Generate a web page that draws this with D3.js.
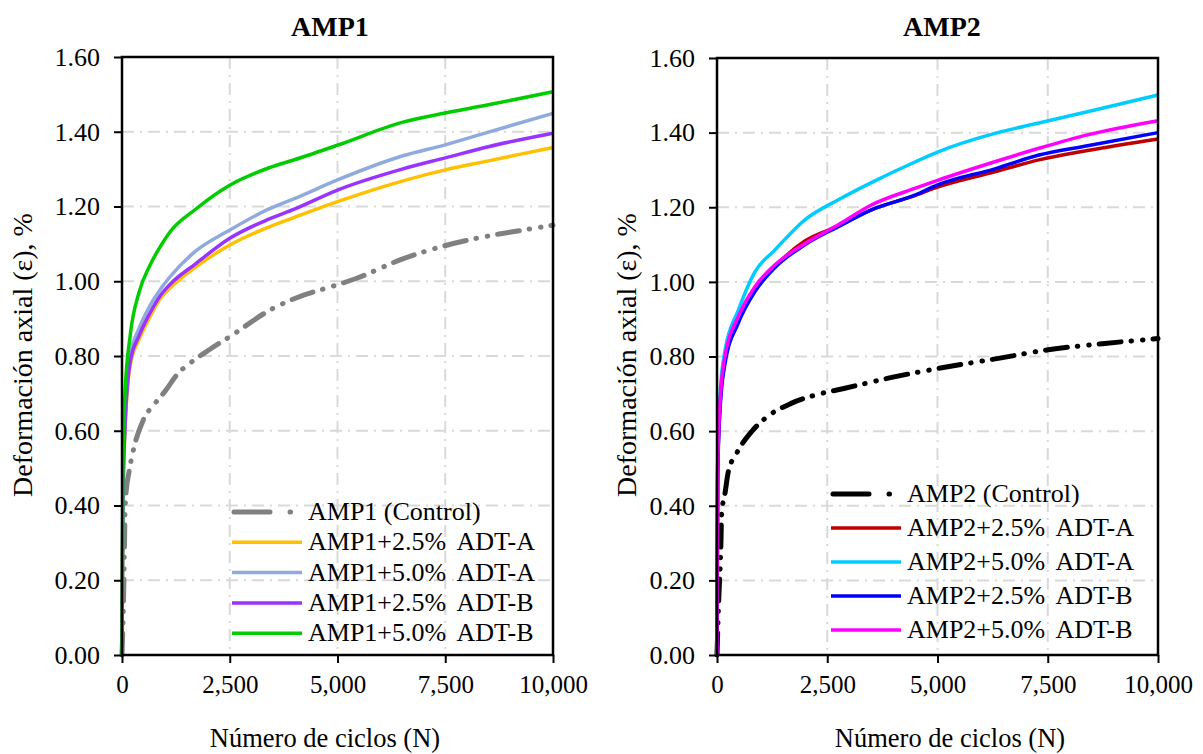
<!DOCTYPE html>
<html>
<head>
<meta charset="utf-8">
<script src="https://cdn.jsdelivr.net/npm/d3@7"></script>
<style>
  html, body { margin: 0; padding: 0; background: #fff; }
  svg { display: block; font-family: "Liberation Serif", "Times New Roman", serif; }
</style>
</head>
<body>
<svg id="chart" width="1203" height="754"></svg>
<script>
// ---------------- DATA ----------------
const xTicks = [0, 2500, 5000, 7500, 10000];
const yTicks = [0, 0.2, 0.4, 0.6, 0.8, 1.0, 1.2, 1.4, 1.6];
const titles = ["AMP1", "AMP2"];
const xTitle = "Número de ciclos (N)";
const yTitle = "Deformación axial (ε), %";

// AMP1 panel
const amp1Names = ["AMP1 (Control)", "AMP1+2.5% ADT-A", "AMP1+5.0% ADT-A", "AMP1+2.5% ADT-B", "AMP1+5.0% ADT-B"];
const amp1ControlCycles = [0, 30, 54, 70, 93, 163, 263, 494, 766, 1000, 1270, 1733, 2042, 2506, 3434, 4053, 4980, 5445, 6450, 7455, 8230, 9311, 10000];
const amp1Control = [0.00, 0.12, 0.27, 0.38, 0.433, 0.49, 0.548, 0.629, 0.673, 0.706, 0.749, 0.794, 0.818, 0.852, 0.923, 0.956, 0.990, 1.008, 1.057, 1.094, 1.115, 1.137, 1.150];
const amp1Cycles = [0, 20, 70, 190, 400, 650, 900, 1100, 1700, 2500, 3400, 4000, 5000, 6500, 7500, 8500, 10000];
const amp1_25A = [0, 0.40, 0.60, 0.775, 0.845, 0.905, 0.955, 0.980, 1.037, 1.097, 1.145, 1.171, 1.213, 1.268, 1.298, 1.322, 1.358];
const amp1_50A = [0, 0.42, 0.62, 0.800, 0.875, 0.935, 0.980, 1.010, 1.080, 1.137, 1.193, 1.221, 1.271, 1.335, 1.365, 1.399, 1.449];
const amp1_25B = [0, 0.41, 0.61, 0.785, 0.855, 0.915, 0.963, 0.990, 1.046, 1.115, 1.166, 1.193, 1.244, 1.300, 1.330, 1.360, 1.396];
const amp1_50B = [0, 0.47, 0.70, 0.855, 0.972, 1.043, 1.095, 1.130, 1.192, 1.257, 1.303, 1.325, 1.364, 1.425, 1.450, 1.472, 1.507];

// AMP2 panel
const amp2Names = ["AMP2 (Control)", "AMP2+2.5% ADT-A", "AMP2+5.0% ADT-A", "AMP2+2.5% ADT-B", "AMP2+5.0% ADT-B"];
const amp2ControlCycles = [0, 40, 83, 106, 181, 256, 447, 787, 1088, 1694, 2374, 2902, 3962, 5018, 6379, 7512, 8798, 10000];
const amp2Control = [0.00, 0.15, 0.273, 0.38, 0.433, 0.491, 0.541, 0.599, 0.634, 0.675, 0.701, 0.715, 0.744, 0.768, 0.795, 0.818, 0.835, 0.848];
const amp2Cycles = [0, 15, 70, 180, 480, 860, 1310, 2000, 2750, 3500, 4500, 5000, 6300, 7300, 8400, 10000];
const amp2_25A = [0, 0.49, 0.67, 0.790, 0.895, 0.980, 1.041, 1.110, 1.150, 1.193, 1.232, 1.254, 1.295, 1.327, 1.352, 1.383];
const amp2_50A = [0, 0.52, 0.70, 0.815, 0.923, 1.027, 1.085, 1.167, 1.220, 1.266, 1.322, 1.348, 1.398, 1.426, 1.456, 1.501];
const amp2_25B = [0, 0.48, 0.66, 0.780, 0.889, 0.974, 1.038, 1.100, 1.148, 1.193, 1.233, 1.260, 1.303, 1.340, 1.365, 1.400];
const amp2_50B = [0, 0.50, 0.68, 0.800, 0.906, 0.987, 1.045, 1.103, 1.153, 1.206, 1.251, 1.272, 1.322, 1.358, 1.394, 1.432];

// ---------------- STYLE / LAYOUT ----------------
const panels = [
  {
    title: titles[0], left: 122, right: 553, top: 57, bottom: 655,
    titleX: 330, xTitleX: 325, yTitleX: 32,
    legendX: 232, legendY: 512, legendStep: 30.3,
    series: [
      {name: amp1Names[0], cycles: amp1ControlCycles, values: amp1Control, color: "#808080", control: true},
      {name: amp1Names[1], cycles: amp1Cycles, values: amp1_25A, color: "#ffc000"},
      {name: amp1Names[2], cycles: amp1Cycles, values: amp1_50A, color: "#8faadc"},
      {name: amp1Names[3], cycles: amp1Cycles, values: amp1_25B, color: "#9933ff"},
      {name: amp1Names[4], cycles: amp1Cycles, values: amp1_50B, color: "#00cc00"}
    ],
    drawOrder: [0, 1, 2, 3, 4]
  },
  {
    title: titles[1], left: 717, right: 1158, top: 58, bottom: 655,
    titleX: 942, xTitleX: 950, yTitleX: 636,
    legendX: 831, legendY: 494, legendStep: 34,
    series: [
      {name: amp2Names[0], cycles: amp2ControlCycles, values: amp2Control, color: "#000000", control: true},
      {name: amp2Names[1], cycles: amp2Cycles, values: amp2_25A, color: "#c00000"},
      {name: amp2Names[2], cycles: amp2Cycles, values: amp2_50A, color: "#00ccff"},
      {name: amp2Names[3], cycles: amp2Cycles, values: amp2_25B, color: "#0000ff"},
      {name: amp2Names[4], cycles: amp2Cycles, values: amp2_50B, color: "#ff00ff"}
    ],
    drawOrder: [0, 2, 1, 3, 4]
  }
];

const svg = d3.select("#chart");

panels.forEach((p, pi) => {
  const x = d3.scaleLinear().domain([0, 10000]).range([p.left, p.right]);
  const y = d3.scaleLinear().domain([0, 1.6]).range([p.bottom, p.top]);
  const g = svg.append("g");

  // grid
  g.append("g").selectAll("line.gx")
    .data(xTicks.slice(1, -1)).join("line")
    .attr("x1", d => x(d)).attr("x2", d => x(d))
    .attr("y1", p.top).attr("y2", p.bottom)
    .attr("stroke", "#d9d9d9").attr("stroke-width", 2)
    .attr("stroke-dasharray", "12,6,2,6");
  g.append("g").selectAll("line.gy")
    .data(yTicks.slice(1, -1)).join("line")
    .attr("x1", p.left).attr("x2", p.right)
    .attr("y1", d => y(d)).attr("y2", d => y(d))
    .attr("stroke", "#d9d9d9").attr("stroke-width", 2)
    .attr("stroke-dasharray", "12,6,2,6");

  // series
  const line = d3.line().x(d => x(d[0])).y(d => y(d[1])).curve(d3.curveMonotoneX);
  p.drawOrder.forEach(i => {
    const s = p.series[i];
    const pts = s.cycles.map((c, k) => [c, s.values[k]]);
    const path = g.append("path").datum(pts)
      .attr("d", line)
      .attr("fill", "none")
      .attr("stroke", s.color)
      .attr("stroke-linejoin", "round");
    if (s.control) {
      path.attr("stroke-width", 5).attr("stroke-linecap", "round")
        .attr("stroke-dasharray", "22,10,0.5,11,0.5,10");
    } else {
      path.attr("stroke-width", 3.5);
    }
  });

  // frame
  g.append("rect")
    .attr("x", p.left).attr("y", p.top)
    .attr("width", p.right - p.left).attr("height", p.bottom - p.top)
    .attr("fill", "none").attr("stroke", "#000").attr("stroke-width", 2.5);

  // axes
  const yAxis = d3.axisLeft(y).tickValues(yTicks).tickFormat(d3.format(".2f")).tickSize(8).tickPadding(14);
  const xAxis = d3.axisBottom(x).tickValues(xTicks).tickFormat(d3.format(",")).tickSize(8).tickPadding(12);
  const ya = g.append("g").attr("transform", `translate(${p.left},0)`).call(yAxis);
  const xa = g.append("g").attr("transform", `translate(0,${p.bottom})`).call(xAxis);
  [ya, xa].forEach(a => {
    a.select(".domain").remove();
    a.selectAll(".tick line").attr("stroke", "#000").attr("stroke-width", 2);
    a.selectAll(".tick text").attr("fill", "#000")
      .style("font-family", '"Liberation Serif", serif');
  });
  ya.selectAll(".tick text").style("font-size", "26px");
  xa.selectAll(".tick text").style("font-size", "25px");

  // titles
  g.append("text").attr("x", p.titleX).attr("y", 36)
    .attr("text-anchor", "middle").style("font-weight", "bold").style("font-size", "28px")
    .text(p.title);
  g.append("text").attr("x", p.xTitleX).attr("y", 747)
    .attr("text-anchor", "middle").style("font-size", "26.5px").text(xTitle);
  g.append("text")
    .attr("transform", `translate(${p.yTitleX},355) rotate(-90)`)
    .attr("text-anchor", "middle").style("font-size", "28px").text(yTitle);

  // legend
  const lg = g.append("g");
  p.series.forEach((s, i) => {
    const ly = p.legendY + i * p.legendStep;
    const l = lg.append("line")
      .attr("x1", p.legendX + (s.control ? 2 : 0)).attr("x2", p.legendX + 70)
      .attr("y1", ly).attr("y2", ly)
      .attr("stroke", s.color);
    if (s.control) {
      l.attr("stroke-width", 5).attr("stroke-linecap", "round")
        .attr("stroke-dasharray", "36,20,0.5,100");
    } else {
      l.attr("stroke-width", 3.5);
    }
    lg.append("text").attr("x", p.legendX + 76).attr("y", ly + 8)
      .style("font-size", "26px").attr("fill", "#000")
      .style("white-space", "pre")
      .text(s.name.replace("% ", "%\u2009 "));
  });
});
</script>
</body>
</html>
